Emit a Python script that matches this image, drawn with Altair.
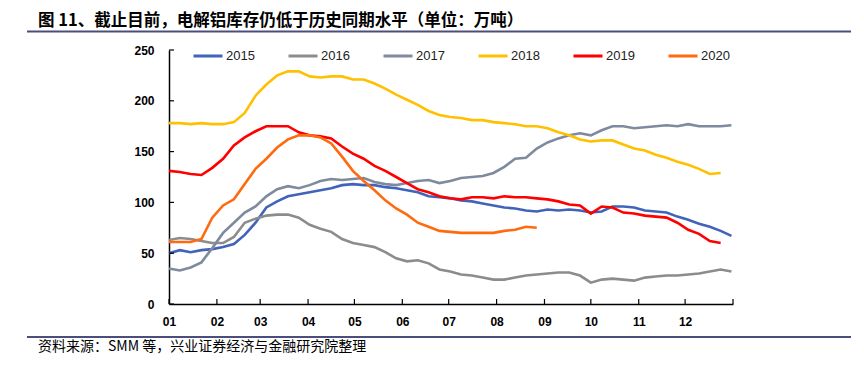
import altair as alt
import pandas as pd

TITLE = "图 11、截止目前，电解铝库存仍低于历史同期水平（单位：万吨）"
SOURCE = "资料来源：SMM 等，兴业证券经济与金融研究院整理"

YEARS = ["2015", "2016", "2017", "2018", "2019", "2020"]
COLORS = ["#4163B9", "#8C8C8C", "#7F8A9E", "#FFC000", "#FF0000", "#FF6A0E"]

MONTH_LABELS = ["01", "02", "03", "04", "05", "06", "07", "08", "09", "10", "11", "12"]
MONTH_START_DAY = [0, 31, 59, 90, 120, 151, 181, 212, 243, 273, 304, 334]
YEAR_END_DAY = 365
WEEK_DAYS = 7
Y_TICKS = [0, 50, 100, 150, 200, 250]

# weekly inventory readings (10k tonnes), week 0 = first week of January
S2015 = [50, 53, 51, 53, 54, 56, 59, 68, 80, 95, 101, 106, 108, 110, 112, 114, 117, 118,
         117, 117, 115, 114, 112, 110, 106, 105, 104, 102, 101, 99, 97, 95, 94, 92, 91,
         93, 92, 93, 92, 90, 91, 96, 96, 95, 92, 91, 90, 86, 83, 79, 76, 72, 67]
S2016 = [63, 65, 64, 62, 60, 60, 66, 80, 84, 87, 88, 88, 85, 78, 74, 71, 64, 60,
         58, 56, 51, 45, 42, 43, 40, 34, 32, 29, 28, 26, 24, 24, 26, 28, 29,
         30, 31, 31, 28, 21, 24, 25, 24, 23, 26, 27, 28, 28, 29, 30, 32, 34, 32]
S2017 = [35, 33, 36, 41, 55, 70, 80, 90, 96, 106, 113, 116, 114, 117, 121, 123, 122, 123,
         124, 120, 118, 117, 119, 121, 122, 119, 121, 124, 125, 126, 129, 135, 143, 144, 153,
         159, 163, 166, 168, 166, 171, 175, 175, 173, 174, 175, 176, 175, 177, 175, 175, 175, 176]
S2018 = [178, 178, 177, 178, 177, 177, 179, 188, 205, 216, 225, 229, 229, 224, 223, 224, 224, 221,
         221, 217, 212, 206, 201, 196, 190, 186, 184, 183, 181, 181, 179, 178, 177, 175, 175,
         173, 169, 166, 162, 160, 161, 161, 157, 153, 151, 147, 144, 140, 137, 133, 128, 129]
S2019 = [131, 130, 128, 127, 134, 143, 156, 164, 170, 175, 175, 175, 169, 166, 165, 163, 155, 148,
         143, 136, 131, 125, 119, 113, 110, 106, 104, 103, 105, 105, 104, 106, 105, 105, 104,
         103, 101, 98, 97, 89, 96, 95, 90, 89, 87, 86, 85, 80, 73, 69, 62, 60]
S2020 = [61, 61, 61, 64, 85, 97, 103, 118, 133, 143, 154, 162, 166, 166, 164, 158, 145, 131,
         121, 112, 102, 94, 88, 80, 76, 72, 71, 70, 70, 70, 70, 72, 73, 76, 75]
SERIES = [S2015, S2016, S2017, S2018, S2019, S2020]

rows = []
for yr, vals in zip(YEARS, SERIES):
    for k, v in enumerate(vals):
        rows.append({"year": yr, "day": k * WEEK_DAYS, "value": v})
df = pd.DataFrame(rows)

W, H = 564, 254
FONT = "Liberation Sans"
CJK = "Noto Sans CJK SC"
RULE_COLOR = "#4B4E7C"

x_scale = alt.Scale(domain=[0, YEAR_END_DAY], nice=False, zero=False)
y_scale = alt.Scale(domain=[Y_TICKS[0], Y_TICKS[-1]], nice=False)

label_expr = ("[" + ",".join(f"'{m}'" for m in MONTH_LABELS) + "][indexof(["
              + ",".join(str(d) for d in MONTH_START_DAY) + "], datum.value)]")

lines = alt.Chart(df).mark_line(strokeWidth=2.6).encode(
    x=alt.X("day:Q", scale=x_scale,
            axis=alt.Axis(values=MONTH_START_DAY, labelExpr=label_expr, ticks=False, grid=False,
                          title=None, labelFont=FONT, labelFontWeight="bold", labelFontSize=12,
                          labelColor="black", labelPadding=12, domainColor="black",
                          domainWidth=1.5, labelFlush=False)),
    y=alt.Y("value:Q", scale=y_scale,
            axis=alt.Axis(values=Y_TICKS, ticks=False, grid=False, title=None,
                          labelFont=FONT, labelFontWeight="bold", labelFontSize=12,
                          labelColor="black", labelPadding=15, domainColor="black",
                          domainWidth=1.5)),
    color=alt.Color("year:N", scale=alt.Scale(domain=YEARS, range=COLORS),
                    legend=alt.Legend(orient="none", legendX=23, legendY=-10,
                                      direction="horizontal", columns=6, title=None,
                                      symbolType="stroke", symbolSize=841,
                                      symbolStrokeWidth=3, labelFont=FONT, labelFontSize=13,
                                      labelColor="#222222", labelOffset=2, columnPadding=27)),
)

xt = pd.DataFrame({"day": MONTH_START_DAY + [YEAR_END_DAY]})
x_ticks = alt.Chart(xt).mark_rule(color="black", strokeWidth=1.2).encode(
    x=alt.X("day:Q", scale=x_scale), y=alt.value(H), y2=alt.value(H - 5))

yt = pd.DataFrame({"value": Y_TICKS})
y_ticks = alt.Chart(yt).mark_rule(color="black", strokeWidth=1.2).encode(
    y=alt.Y("value:Q", scale=y_scale), x=alt.value(0), x2=alt.value(5))

deco = pd.DataFrame({"t": [TITLE], "s": [SOURCE]})
title_txt = alt.Chart(deco).mark_text(align="left", baseline="middle", font=CJK,
                                      fontWeight="bold", fontSize=16.5, color="black").encode(
    x=alt.value(-131), y=alt.value(-29), text="t:N")
source_txt = alt.Chart(deco).mark_text(align="left", baseline="middle", font=CJK,
                                       fontSize=14, color="black").encode(
    x=alt.value(-131), y=alt.value(297), text="s:N")
top_rule = alt.Chart(deco).mark_rule(color=RULE_COLOR, strokeWidth=2.2).encode(
    x=alt.value(-142), x2=alt.value(682), y=alt.value(-18.5))
bottom_rule = alt.Chart(deco).mark_rule(color=RULE_COLOR, strokeWidth=1.8).encode(
    x=alt.value(-142), x2=alt.value(682), y=alt.value(287))

chart = alt.layer(lines, x_ticks, y_ticks, title_txt, source_txt, top_rule, bottom_rule).properties(
    width=W, height=H, autosize="none",
    padding={"left": 161, "top": 42, "right": 123, "bottom": 56},
).configure_view(strokeWidth=0)

chart.save("out.html", embed_options={"renderer": "svg", "actions": False})
